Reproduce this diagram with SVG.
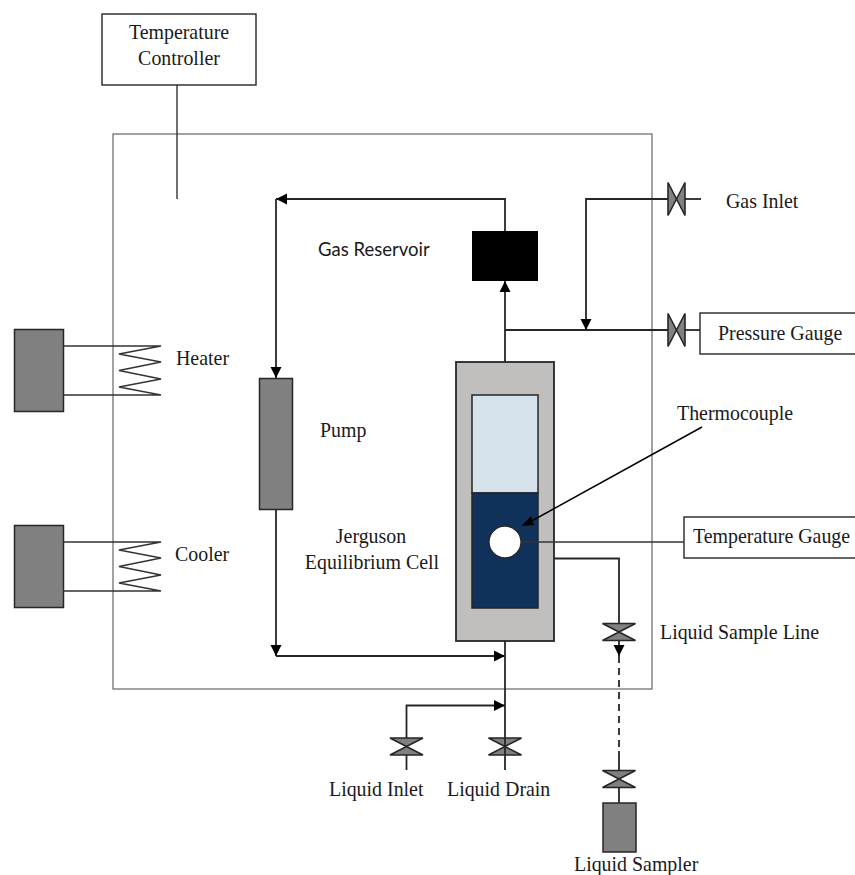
<svg xmlns="http://www.w3.org/2000/svg" width="855" height="875" viewBox="0 0 855 875">
<style>
text{font-family:"Liberation Serif","Times New Roman",serif;font-size:19.900px;fill:#1a1a1a}
.s{font-family:Lato,"Open Sans",sans-serif;font-size:18.500px}
.l{fill:none;stroke:#262626;stroke-width:1.8}
.t{fill:none;stroke:#333;stroke-width:1.4}
.box{fill:#fff;stroke:#262626;stroke-width:1.4}
.g{fill:#808080;stroke:#262626;stroke-width:1.5}
.v{fill:#808080;stroke:#262626;stroke-width:1.6;stroke-linejoin:miter}
</style>
<defs>
<marker id="a" markerUnits="userSpaceOnUse" markerWidth="12" markerHeight="12" refX="11" refY="6" orient="auto"><path d="M0 0.5L11 6L0 11.500Z" fill="#000"/></marker>
<g id="vv"><path class="v" d="M-16.500 -8.500H16.500L-16.500 8.500H16.500Z"/></g>
<g id="vh"><path class="v" d="M-8.500 -16.500V16.500L8.500 -16.500V16.500Z"/></g>
<path id="coil" class="t" d="M63 0H161L119 8L161 16L119 24.500L161 33L119 41L161 49H63"/>
</defs>
<rect id="oven" x="113" y="134" width="539" height="555" fill="none" stroke="#666" stroke-width="1.200"/>
<g id="temperature-controller"><rect class="box" x="102" y="14" width="154" height="71"/><text x="179" y="39" text-anchor="middle">Temperature</text><text x="179" y="65" text-anchor="middle">Controller</text></g>
<g id="heater"><rect class="g" x="14.500" y="329.500" width="49" height="82"/><use href="#coil" y="346"/><text x="176" y="365">Heater</text></g>
<g id="cooler"><rect class="g" x="14.500" y="525.500" width="49" height="82"/><use href="#coil" y="542"/><text x="175" y="561">Cooler</text></g>
<g id="pump"><rect class="g" x="259.500" y="378.500" width="33" height="131" stroke-width="2"/><text x="320" y="437">Pump</text></g>
<g id="gas-reservoir"><rect x="472" y="231" width="66" height="50" fill="#000"/><text class="s" x="318" y="256">Gas Reservoir</text></g>
<g id="cell"><rect x="456" y="362" width="98" height="279" fill="#c0bfbd" stroke="#262626" stroke-width="1.800"/><rect x="472" y="395" width="66" height="98" fill="#d6e3ed" stroke="#262626" stroke-width="1.500"/><rect x="472" y="493" width="66" height="115" fill="#10325a" stroke="#262626" stroke-width="1.500"/><circle cx="505" cy="542" r="16" fill="#fff" stroke="#262626" stroke-width="1.300"/><text x="371" y="543" text-anchor="middle">Jerguson</text><text x="372" y="569" text-anchor="middle">Equilibrium Cell</text></g>
<g id="thermocouple"><text x="677" y="420">Thermocouple</text></g>
<g id="gas-inlet"><use href="#vh" x="676.500" y="199"/><text x="726" y="208">Gas Inlet</text></g>
<g id="pressure-gauge"><use href="#vh" x="676.500" y="330"/><rect class="box" x="700" y="313" width="160" height="41"/><text x="718" y="340">Pressure Gauge</text></g>
<g id="temperature-gauge"><rect class="box" x="684" y="517" width="176" height="41"/><text x="693" y="543">Temperature Gauge</text></g>
<g id="liquid-sample-line"><use href="#vv" x="619" y="632"/><text x="660" y="639">Liquid Sample Line</text></g>
<g id="liquid-inlet"><use href="#vv" x="406.500" y="746.500"/><text x="329" y="796">Liquid Inlet</text></g>
<g id="liquid-drain"><use href="#vv" x="505" y="746.500"/><text x="447" y="796">Liquid Drain</text></g>
<g id="liquid-sampler"><use href="#vv" x="619" y="779"/><rect class="g" x="603" y="803" width="33" height="49"/><text x="574" y="871">Liquid Sampler</text></g>
<g id="connectors">
<path class="t" d="M177 85V199"/>
<path class="l" d="M505 231V199H276" marker-end="url(#a)"/>
<path class="l" d="M276 199V378" marker-end="url(#a)"/>
<path class="l" d="M276 509V656" marker-end="url(#a)"/>
<path class="l" d="M276 656H505" marker-end="url(#a)"/>
<path class="l" d="M505 362V281" marker-end="url(#a)"/>
<path class="l" d="M505 330H668"/>
<path class="l" d="M668 199H586V330" marker-end="url(#a)"/>
<path class="l" d="M685 199H701"/>
<path class="l" d="M685 330H700"/>
<path class="l" d="M505 641V770"/>
<path class="l" d="M406.500 738V705.500H505" marker-end="url(#a)"/>
<path class="l" d="M406.500 755V770"/>
<path class="l" d="M554 558.500H619V623"/>
<path class="l" d="M619 641V656" marker-end="url(#a)"/>
<path class="l" d="M619 656V751" stroke-dasharray="7 5"/>
<path class="l" d="M619 751V771"/>
<path class="l" d="M619 788V803"/>
<path class="t" d="M521 542H684"/>
<path d="M702 427L528 523" stroke="#000" stroke-width="1.500" fill="none"/>
<path d="M521.500 526L531 516L534 525Z" fill="#000"/>
</g>
</svg>
